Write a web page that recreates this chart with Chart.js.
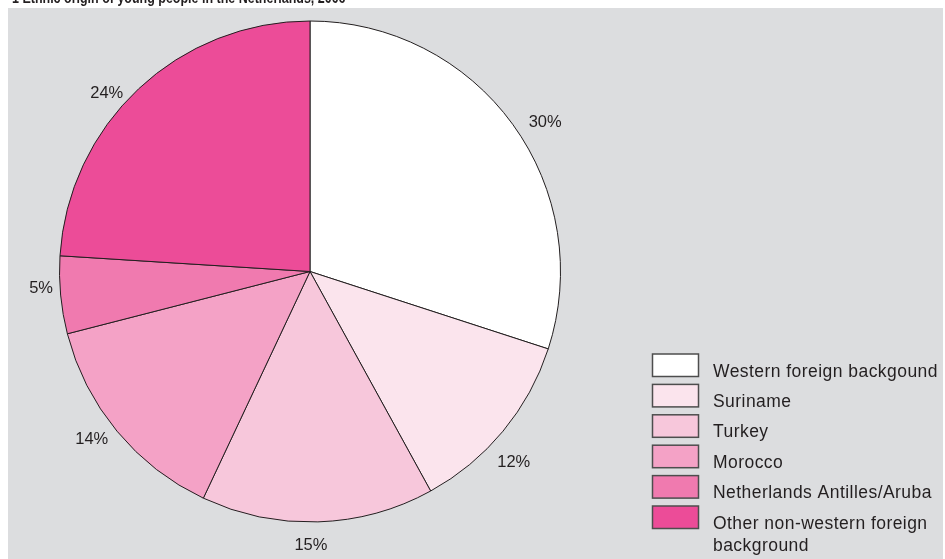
<!DOCTYPE html>
<html>
<head>
<meta charset="utf-8">
<script src="https://cdn.jsdelivr.net/npm/chart.js@4"></script>
<style>
  html, body { margin: 0; padding: 0; background: #fff; }
  #wrap { width: 945px; height: 559px; }
</style>
</head>
<body>
<div id="wrap"><canvas id="pie-chart" width="945" height="559"></canvas></div>
<script>
// chart title (cut off at the top in the source)
const title = '1 Ethnic origin of young people in the Netherlands, 2006';
// categories
const categories = [
  'Western foreign backgound',
  'Suriname',
  'Turkey',
  'Morocco',
  'Netherlands Antilles/Aruba',
  'Other non-western foreign background',
];
// share of young people, %
const shares = [30, 12, 15, 14, 5, 24];
// slice colours
const sliceColors = ['#ffffff', '#fbe4ed', '#f7c7db', '#f4a2c6', '#f07aaf', '#ec4c98'];

const textColor = '#231f20';
const fontFamily = '"Liberation Sans", Arial, sans-serif';

// grey panel + title behind everything
const panelBg = {
  id: 'panelBg',
  beforeDraw(chart) {
    const ctx = chart.ctx;
    ctx.save();
    ctx.fillStyle = '#ffffff';
    ctx.fillRect(0, 0, chart.width, chart.height);
    ctx.fillStyle = textColor;
    ctx.font = 'bold 16px ' + fontFamily;
    ctx.textBaseline = 'alphabetic';
    // source title is a condensed face
    ctx.translate(12, 3);
    ctx.scale(0.78, 1);
    ctx.fillText(title, 0, 0);
    ctx.setTransform(1, 0, 0, 1, 0, 0);
    ctx.fillStyle = '#dcdddf';
    ctx.fillRect(8, 8, chart.width - 10, chart.height - 8);
    ctx.restore();
  },
};

// percentage labels outside the slices
const outLabels = {
  id: 'outLabels',
  afterDatasetsDraw(chart, args, opts) {
    const ctx = chart.ctx;
    const meta = chart.getDatasetMeta(0);
    ctx.save();
    ctx.font = opts.font;
    ctx.fillStyle = opts.color;
    ctx.textAlign = 'center';
    ctx.textBaseline = 'middle';
    meta.data.forEach((arc, i) => {
      const mid = (arc.startAngle + arc.endAngle) / 2 + (opts.angleShift[i] || 0) * Math.PI / 180;
      const r = arc.outerRadius + opts.offset[i];
      ctx.fillText(shares[i] + '%', arc.x + r * Math.cos(mid), arc.y + r * Math.sin(mid));
    });
    ctx.restore();
  },
};

// split a label into lines that fit maxWidth
function wrapText(ctx, text, maxWidth) {
  const words = text.split(' ');
  const lines = [];
  let line = '';
  words.forEach((w) => {
    const test = line ? line + ' ' + w : w;
    if (line && ctx.measureText(test).width > maxWidth) {
      lines.push(line);
      line = w;
    } else {
      line = test;
    }
  });
  lines.push(line);
  return lines;
}

// legend on the right, boxes with wrapped text
const sideLegend = {
  id: 'sideLegend',
  afterDraw(chart, args, opts) {
    const ctx = chart.ctx;
    const ds = chart.data.datasets[0];
    ctx.save();
    ctx.font = opts.font;
    ctx.letterSpacing = opts.letterSpacing;
    ctx.textBaseline = 'alphabetic';
    let y = opts.top;
    chart.data.labels.forEach((label, i) => {
      ctx.fillStyle = ds.backgroundColor[i];
      ctx.fillRect(opts.left, y, opts.boxWidth, opts.boxHeight);
      ctx.strokeStyle = opts.boxBorder;
      ctx.lineWidth = 1.5;
      ctx.strokeRect(opts.left, y, opts.boxWidth, opts.boxHeight);
      ctx.fillStyle = opts.color;
      wrapText(ctx, label, opts.maxWidth).forEach((line, j) => {
        ctx.fillText(line, opts.textLeft, y + opts.boxHeight + j * opts.lineHeight);
      });
      y += opts.rowGap;
    });
    ctx.restore();
  },
};

let pieChart = new Chart(document.querySelector('#pie-chart'), {
  type: 'pie',
  data: {
    labels: categories,
    datasets: [
      {
        data: shares,
        backgroundColor: sliceColors,
        borderColor: textColor,
        borderWidth: 1,
        hoverOffset: 0,
      },
    ],
  },
  options: {
    responsive: false,
    animation: false,
    events: [],
    layout: {
      padding: { left: 59, top: 20, right: 384, bottom: 36 },
    },
    plugins: {
      legend: { display: false },
      tooltip: { enabled: false },
      outLabels: {
        font: '16.5px ' + fontFamily,
        color: textColor,
        // nudges so labels sit where the source puts them
        angleShift: [3.6, 3.6, 1.6, 2.0, 1.7, -5.5],
        offset: [28, 29, 23, 25, 19, 20],
      },
      sideLegend: {
        font: '17.5px ' + fontFamily,
        letterSpacing: '0.45px',
        color: textColor,
        left: 652.5,
        top: 354,
        boxWidth: 46,
        boxHeight: 22.5,
        boxBorder: '#4d4d4d',
        textLeft: 713,
        rowGap: 30.4,
        lineHeight: 22,
        maxWidth: 240,
      },
    },
  },
  plugins: [panelBg, outLabels, sideLegend],
});
</script>
</body>
</html>
